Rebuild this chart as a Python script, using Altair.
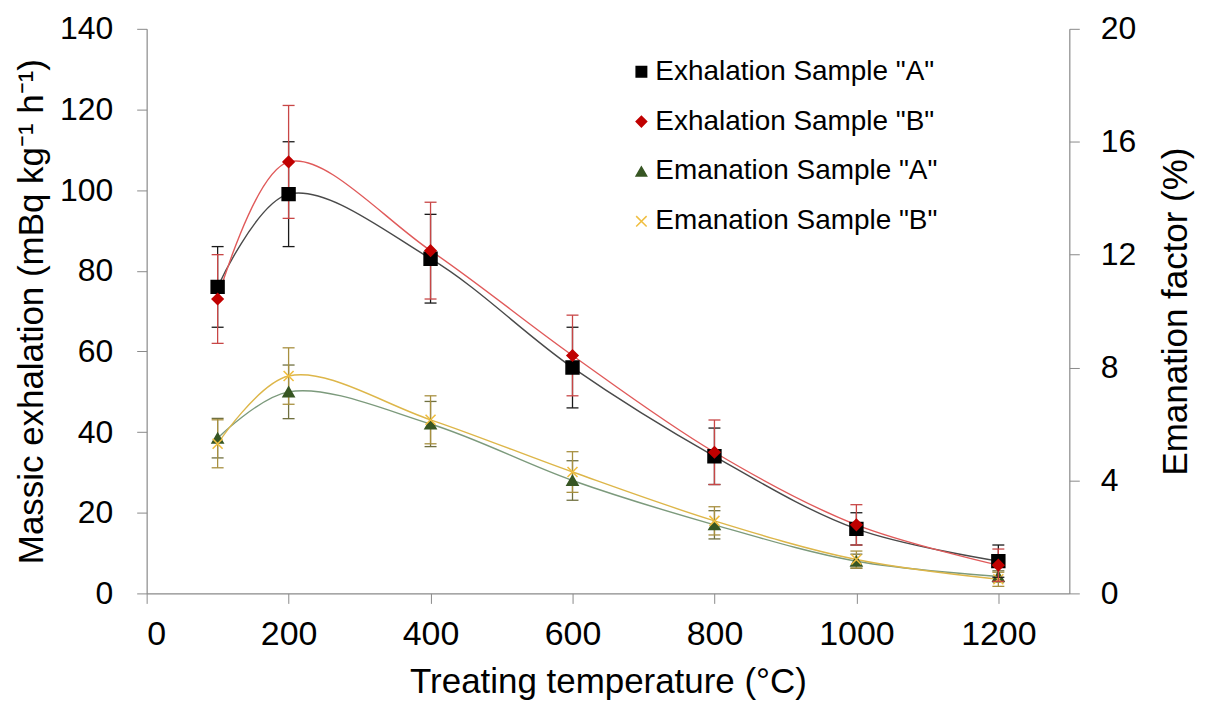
import altair as alt
import pandas as pd

# ---- data ----
temps = [100, 200, 400, 600, 800, 1000, 1200]

exh_a = [76, 99, 83, 56, 34, 16, 8]
exh_a_err = [10, 13, 11, 10, 7, 4, 4]
exh_b = [73, 107, 85, 59, 35, 17, 7]
exh_b_err = [11, 14, 12, 10, 8, 5, 4]

ema_a = [5.5, 7.14, 6.0, 4.0, 2.43, 1.14, 0.6]
ema_a_err = [0.7, 0.95, 0.8, 0.7, 0.5, 0.25, 0.2]
ema_b = [5.3, 7.7, 6.15, 4.3, 2.57, 1.2, 0.5]
ema_b_err = [0.85, 1.0, 0.85, 0.72, 0.5, 0.3, 0.25]

names = ['Exhalation Sample "A"', 'Exhalation Sample "B"',
         'Emanation Sample "A"', 'Emanation Sample "B"']
x_ticks = [0, 200, 400, 600, 800, 1000, 1200]
left_ticks = [0, 20, 40, 60, 80, 100, 120, 140]
right_ticks = [0, 4, 8, 12, 16, 20]

# styles
marker_colors = ["#000000", "#C00000", "#375623", "#F0BE40"]
marker_fill = ["#000000", "#C00000", "#375623", "transparent"]
shapes = ["square", "diamond", "triangle-up", "M-1,-1L1,1M-1,1L1,-1"]
sizes = [165, 120, 120, 100]
line_colors = ["#4a4a4a", "#E05A5A", "#7C9A7C", "#DDB649"]
err_colors = ["#1a1a1a", "#C84646", "#707040", "#A89040"]

FONT = "Liberation Sans"

rows = []
for name, vals, errs in zip(names, [exh_a, exh_b, ema_a, ema_b],
                            [exh_a_err, exh_b_err, ema_a_err, ema_b_err]):
    for t, v, e in zip(temps, vals, errs):
        rows.append({"series": name, "temp": t, "val": v,
                     "lo": v - e, "hi": v + e})
df = pd.DataFrame(rows)

x_enc = alt.X("temp:Q", scale=alt.Scale(domain=[0, 1300], nice=False),
              axis=alt.Axis(values=x_ticks, format="d",
                            title="Treating temperature (°C)",
                            labelFontSize=34, labelPadding=14,
                            titlePadding=13))

left_scale = alt.Scale(domain=[0, 140], nice=False)
right_scale = alt.Scale(domain=[0, 20], nice=False)
left_axis = alt.Axis(values=left_ticks, orient="left",
                     title="Massic exhalation (mBq kg⁻¹ h⁻¹)",
                     labelFontSize=32, labelPadding=24, titlePadding=10)
right_axis = alt.Axis(values=right_ticks, orient="right",
                      title="Emanation factor (%)", titleAngle=270,
                      labelFontSize=32, labelPadding=21, titlePadding=58)

legend = alt.Legend(title=None, orient="none", legendX=482, legendY=29,
                    labelFontSize=28, labelFont=FONT, labelColor="black",
                    labelLimit=0, symbolSize=110, symbolStrokeWidth=1.5,
                    rowPadding=22, labelOffset=0)
shape_enc = alt.Shape("series:N", scale=alt.Scale(domain=names, range=shapes),
                      legend=legend)
fill_enc = alt.Fill("series:N", scale=alt.Scale(domain=names, range=marker_fill),
                    legend=legend)
stroke_enc = alt.Stroke("series:N",
                        scale=alt.Scale(domain=names, range=marker_colors),
                        legend=legend)

base = alt.Chart(df)


def group(idx_list, scale, axis):
    lines, errs, pts = [], [], []
    for i in idx_list:
        s = base.transform_filter(alt.datum.series == names[i])
        lines.append(s.mark_line(interpolate="catmull-rom", strokeWidth=1.4,
                                 color=line_colors[i]).encode(
            x=x_enc, y=alt.Y("val:Q", scale=scale, axis=axis)))
        errs.append(s.mark_rule(color=err_colors[i], strokeWidth=1.3).encode(
            x=x_enc, y=alt.Y("lo:Q", scale=scale, axis=axis), y2="hi:Q"))
        errs.append(s.transform_fold(["lo", "hi"]).mark_tick(
            orient="horizontal", size=12, thickness=1.3,
            color=err_colors[i], opacity=1).encode(
            x=x_enc, y=alt.Y("value:Q", scale=scale, axis=axis)))
        pts.append(s.mark_point(filled=True, opacity=1, strokeWidth=1.6,
                                size=sizes[i]).encode(
            x=x_enc, y=alt.Y("val:Q", scale=scale, axis=axis),
            shape=shape_enc, fill=fill_enc, stroke=stroke_enc))
    return alt.layer(*lines, *errs, *pts)


left_group = group([0, 1], left_scale, left_axis)
right_group = group([2, 3], right_scale, right_axis)

chart = alt.layer(right_group, left_group).resolve_scale(
    y="independent"
).properties(
    width=925, height=566,
    autosize=alt.AutoSizeParams(type="none"),
    padding={"left": 139, "top": 20, "right": 128, "bottom": 112},
).configure_view(stroke=None).configure_axis(
    grid=False, domainColor="#8a8a8a", tickColor="#8a8a8a", tickSize=10,
    labelFont=FONT, labelColor="black",
    titleFont=FONT, titleFontSize=35, titleFontWeight="normal",
    titleColor="black", domainWidth=1.2,
)

chart.save("out.html", embed_options={"renderer": "svg", "actions": False})
